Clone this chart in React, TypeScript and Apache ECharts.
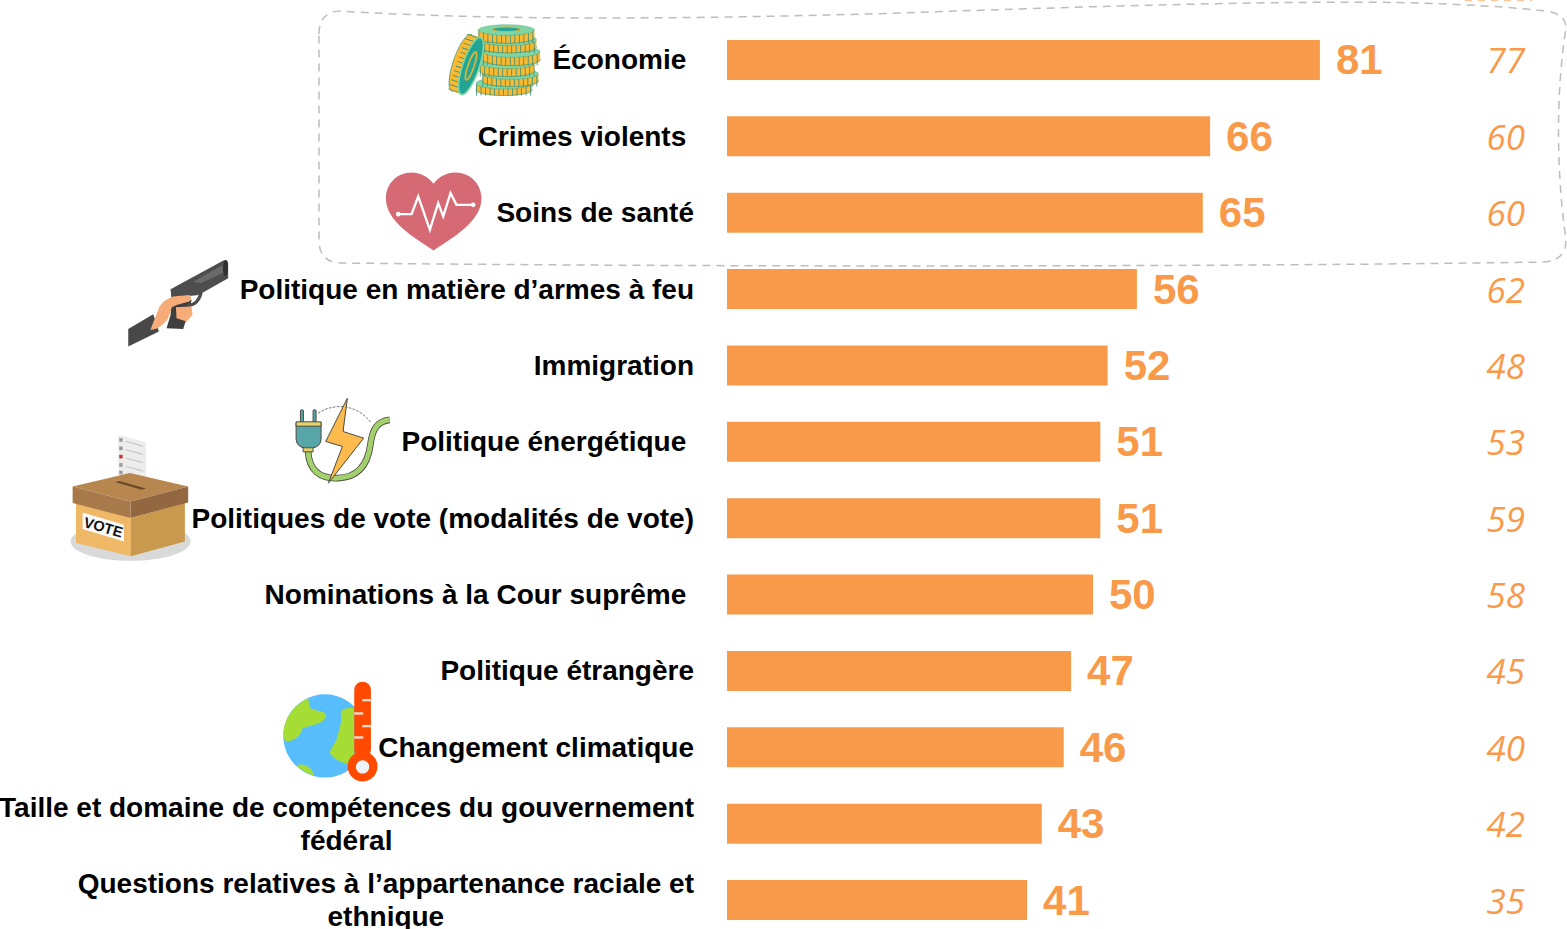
import React, { useEffect, useRef } from "react";
import * as echarts from "echarts";

const categories = [
  "Économie",
  "Crimes violents",
  "Soins de santé",
  "Politique en matière d’armes à feu",
  "Immigration",
  "Politique énergétique",
  "Politiques de vote (modalités de vote)",
  "Nominations à la Cour suprême",
  "Politique étrangère",
  "Changement climatique",
  "Taille et domaine de compétences du gouvernement\nfédéral",
  "Questions relatives à l’appartenance raciale et\nethnique",
];
const paddedCategories = ["Économie", "Crimes violents", "Politique énergétique", "Nominations à la Cour suprême"];
const currentValues = [81, 66, 65, 56, 52, 51, 51, 50, 47, 46, 43, 41];
const previousValues = [77, 60, 60, 62, 48, 53, 59, 58, 45, 40, 42, 35];

const ORANGE = "#F99A4B";
const FONT = "'Liberation Sans', Arial, sans-serif";

const reg = (name: string, d: string) =>
  echarts.graphic.registerShape(name, echarts.graphic.extendPath(d, {}));

reg("boxOutline", "M319 34 Q319 12 340 11 C 500 21 700 19 900 13 C 1100 6 1300 0 1420 3 C 1480 5 1520 8 1546 11 Q 1566 14 1566 28 C 1556 90 1556 170 1566 240 Q 1566 260 1545 262 C 1300 266 800 268 340 263 Q 319 262 319 240 Z");
reg("heartIcon", "M401 552 C 385 530 360 518 335 518 C 292 518 258 552 258 596 C 258 665 345 715 401 752 C 457 715 545 665 545 596 C 545 552 510 518 467 518 C 440 518 417 530 401 552 Z");
reg("gunSlide", "M332 118 L488 33 Q503 25 505 40 L505 85 L432 126 L412 136 L385 138 L335 150 Z");
reg("gunGuard", "M380 165 Q412 170 424 128");
reg("gunHand", "M272 238 L298 172 Q310 150 340 140 L388 135 Q400 145 388 155 L350 165 L336 172 L325 205 Q300 240 272 240 Z");
reg("cable", "M745 605 C 748 660 780 688 835 685 C 900 682 925 640 932 585 C 938 540 950 515 990 510");
reg("dashArc", "M775 490 C 820 460 890 460 935 520");
reg("landA", "M115 85 C 70 105 40 150 40 195 L45 215 C 70 215 92 200 98 175 C 120 165 165 165 168 135 C 165 118 125 125 118 110 Z");
reg("landB", "M253 115 C 235 112 215 115 212 130 C 218 150 210 170 205 190 C 200 220 180 235 180 250 C 190 268 215 280 253 285 Z");
reg("landC", "M80 288 C 95 278 125 285 132 318 C 110 310 95 300 80 288 Z");

function coin(cx: number, topY: number, rx: number, ry: number, h: number) {
  return [
    { type: "ellipse", shape: { cx, cy: topY + h, rx, ry }, style: { fill: "#F9B931", stroke: "#2F8F7A", lineWidth: 2 } },
    { type: "rect", shape: { x: cx - rx, y: topY, width: rx * 2, height: h }, style: { fill: "#F9B931" } },
    {
      type: "line",
      shape: { x1: cx - rx, y1: topY + h / 2 + ry / 2, x2: cx + rx, y2: topY + h / 2 + ry / 2 },
      style: { stroke: "#3D8F78", lineWidth: h + ry, lineDash: [2.5, 11] },
    },
    { type: "ellipse", shape: { cx, cy: topY, rx, ry }, style: { fill: "#7FD6A4", stroke: "#2F8F7A", lineWidth: 1 } },
  ];
}

const third = { scaleX: 1 / 3, scaleY: 1 / 3 };

const coinsIcon = {
  type: "group",
  x: 300,
  y: 0,
  ...third,
  children: [
    ...coin(613, 250, 84, 17, 20),
    ...coin(632, 222, 84, 16, 22),
    ...coin(622, 190, 82, 16, 24),
    ...coin(635, 155, 86, 17, 25),
    ...coin(625, 120, 85, 17, 22),
    ...coin(620, 90, 84, 16, 24),
    { type: "ellipse", shape: { cx: 620, cy: 88, rx: 42, ry: 7 }, style: { fill: "#26A69A", stroke: "#E5B53A", lineWidth: 3 } },
    {
      type: "group",
      x: 513,
      y: 198,
      rotation: -0.33,
      children: [
        { type: "ellipse", shape: { cx: -30, cy: 0, rx: 25, ry: 90 }, style: { fill: "#F9B931", stroke: "#3D8F78", lineWidth: 2 } },
        { type: "rect", shape: { x: -30, y: -90, width: 30, height: 180 }, style: { fill: "#F9B931" } },
        { type: "line", shape: { x1: -18, y1: -88, x2: -18, y2: 88 }, style: { stroke: "#3D8F78", lineWidth: 50, lineDash: [2.5, 12] } },
        { type: "ellipse", shape: { cx: 0, cy: 0, rx: 25, ry: 90 }, style: { fill: "#23A595", stroke: "#7FD6A4", lineWidth: 5 } },
        { type: "ellipse", shape: { cx: 0, cy: 0, rx: 9, ry: 44 }, style: { fill: "#23A595", stroke: "#D9B53A", lineWidth: 5 } },
      ],
    },
  ],
};

const heartIcon = {
  type: "group",
  x: 300,
  y: 0,
  ...third,
  children: [
    { type: "heartIcon", style: { fill: "#D56A74" } },
    {
      type: "polyline",
      shape: { points: [[295, 643], [335, 643], [355, 590], [390, 690], [415, 610], [430, 650], [452, 580], [470, 615], [520, 615]] },
      style: { fill: "none", stroke: "#fff", lineWidth: 7 },
    },
    { type: "circle", shape: { cx: 295, cy: 643, r: 7 }, style: { fill: "#fff" } },
    { type: "circle", shape: { cx: 520, cy: 615, r: 7 }, style: { fill: "#fff" } },
  ],
};

const gunIcon = {
  type: "group",
  x: 60,
  y: 250,
  ...third,
  children: [
    { type: "polygon", shape: { points: [[205, 237], [280, 193], [297, 245], [205, 290]] }, style: { fill: "#484848" } },
    { type: "polygon", shape: { points: [[335, 150], [395, 150], [390, 175], [370, 237], [320, 235], [332, 195]] }, style: { fill: "#3F3F3F" } },
    { type: "gunGuard", style: { fill: "none", stroke: "#4D4D4D", lineWidth: 10 } },
    { type: "gunSlide", style: { fill: "#4D4D4D" } },
    { type: "polygon", shape: { points: [[400, 95], [488, 45], [490, 68], [440, 92], [420, 100]] }, style: { fill: "#6A6A6A" } },
    { type: "ellipse", shape: { cx: 497, cy: 55, rx: 7, ry: 24 }, style: { fill: "#2F2F2F" } },
    { type: "gunHand", style: { fill: "#F6AB78" } },
    { type: "polygon", shape: { points: [[348, 172], [395, 170], [398, 195], [380, 215], [350, 205]] }, style: { fill: "#F6AB78" } },
  ],
};

const DARK = "#4A4A40";
const plugIcon = {
  type: "group",
  x: 60,
  y: 250,
  ...third,
  children: [
    { type: "dashArc", style: { fill: "none", stroke: "#777", lineWidth: 3, lineDash: [8, 4] } },
    { type: "cable", style: { fill: "none", stroke: DARK, lineWidth: 20 } },
    { type: "cable", style: { fill: "none", stroke: "#A3D16E", lineWidth: 15 } },
    { type: "rect", shape: { x: 722, y: 480, width: 9, height: 36, r: 3 }, style: { fill: "#57A6A8", stroke: DARK, lineWidth: 3 } },
    { type: "rect", shape: { x: 760, y: 480, width: 9, height: 36, r: 3 }, style: { fill: "#57A6A8", stroke: DARK, lineWidth: 3 } },
    { type: "rect", shape: { x: 730, y: 590, width: 30, height: 16 }, style: { fill: "#E6D46A", stroke: DARK, lineWidth: 3 } },
    { type: "rect", shape: { x: 709, y: 518, width: 75, height: 76, r: [0, 0, 26, 26] }, style: { fill: "#57A6A8", stroke: DARK, lineWidth: 3 } },
    { type: "rect", shape: { x: 709, y: 516, width: 75, height: 13 }, style: { fill: "#E6D46A", stroke: DARK, lineWidth: 3 } },
    { type: "polygon", shape: { points: [[863, 445], [798, 575], [848, 590], [806, 700], [912, 565], [850, 545]] }, style: { fill: "#FDBB4E", stroke: DARK, lineWidth: 3 } },
  ],
};

const paperLines = [585, 610, 635, 660, 683];
const ballotIcon = {
  type: "group",
  x: 60,
  y: 250,
  ...third,
  children: [
    { type: "ellipse", shape: { cx: 212, cy: 875, rx: 180, ry: 58 }, style: { fill: "#D9D9D9" } },
    { type: "polygon", shape: { points: [[175, 555], [258, 577], [258, 700], [175, 675]] }, style: { fill: "#ECECEC" } },
    ...paperLines.map((y) => ({ type: "line", shape: { x1: 198, y1: y - 10, x2: 250, y2: y + 4 }, style: { stroke: "#AAA", lineWidth: 2 } })),
    ...paperLines.map((y, i) => ({ type: "rect", shape: { x: 178, y: y - 20, width: 10, height: 11 }, style: { fill: i === 2 ? "#D0312D" : "#999" } })),
    { type: "polygon", shape: { points: [[38, 710], [210, 670], [385, 710], [212, 755]] }, style: { fill: "#B8874F" } },
    { type: "polygon", shape: { points: [[165, 697], [178, 694], [258, 716], [245, 720]] }, style: { fill: "#6B4A2A" } },
    { type: "polygon", shape: { points: [[48, 760], [213, 805], [213, 920], [48, 880]] }, style: { fill: "#EFB866" } },
    { type: "polygon", shape: { points: [[213, 805], [375, 760], [375, 875], [213, 920]] }, style: { fill: "#C99A4E" } },
    { type: "polygon", shape: { points: [[38, 710], [212, 755], [212, 805], [38, 760]] }, style: { fill: "#A8794A" } },
    { type: "polygon", shape: { points: [[212, 755], [385, 710], [385, 758], [212, 805]] }, style: { fill: "#93673F" } },
    { type: "polygon", shape: { points: [[68, 788], [192, 825], [192, 875], [68, 838]] }, style: { fill: "#FAFAFA" } },
    { type: "text", x: 130, y: 832, rotation: -0.28, style: { text: "VOTE", font: `bold 44px ${FONT}`, fill: "#111", align: "center", verticalAlign: "middle" } },
  ],
};

const globeIcon = {
  type: "group",
  x: 270,
  y: 670,
  ...third,
  children: [
    { type: "circle", shape: { cx: 165, cy: 198, r: 125 }, style: { fill: "#57BDFB" } },
    { type: "landA", style: { fill: "#A6DD35" } },
    { type: "landB", style: { fill: "#A6DD35" } },
    { type: "landC", style: { fill: "#A6DD35" } },
    { type: "rect", shape: { x: 253, y: 35, width: 50, height: 230, r: 25 }, style: { fill: "#FF4A00" } },
    { type: "circle", shape: { cx: 278, cy: 290, r: 45 }, style: { fill: "#FF4A00" } },
    { type: "circle", shape: { cx: 278, cy: 291, r: 20 }, style: { fill: "#EEF3F8" } },
    { type: "rect", shape: { x: 277, y: 87, width: 26, height: 7 }, style: { fill: "#FFE0D0" } },
    { type: "rect", shape: { x: 253, y: 127, width: 27, height: 7 }, style: { fill: "#FFE0D0" } },
    { type: "rect", shape: { x: 277, y: 165, width: 26, height: 7 }, style: { fill: "#FFE0D0" } },
    { type: "rect", shape: { x: 253, y: 199, width: 27, height: 7 }, style: { fill: "#FFE0D0" } },
  ],
};

export default function App() {
  const ref = useRef<HTMLDivElement>(null);
  useEffect(() => {
    document.body.style.margin = "0";
    const chart = echarts.init(ref.current!, null, { renderer: "svg" });
    chart.setOption({
      animation: false,
      backgroundColor: "#fff",
      grid: { left: 727, top: 21.8, width: 732, height: 916.4, outerBoundsMode: "none" },
      xAxis: { type: "value", min: 0, max: 100, show: false },
      yAxis: {
        type: "category",
        inverse: true,
        data: categories,
        axisLine: { show: false },
        axisTick: { show: false },
        axisLabel: {
          margin: 33,
          interval: 0,
          align: "right",
          formatter: (name: string) => {
            const pad = paddedCategories.includes(name) ? "\u00a0" : "";
            return name.split("\n").map((l) => `{c|${l}${pad}}`).join("\n");
          },
          rich: { c: { fontFamily: FONT, fontSize: 28, fontWeight: "bold", color: "#000", lineHeight: 33, align: "center" } },
        },
      },
      series: [
        {
          type: "bar",
          data: currentValues,
          barWidth: 40,
          itemStyle: { color: ORANGE },
          label: {
            show: true,
            position: "right",
            distance: 16,
            color: ORANGE,
            fontFamily: FONT,
            fontWeight: "bold",
            fontSize: 42,
          },
        },
        {
          type: "custom",
          data: previousValues.map((v, i) => [v, i]),
          encode: { x: 0, y: 1 },
          silent: true,
          renderItem: (_p: any, api: any) => ({
            type: "text",
            x: 1525,
            y: api.coord([0, api.value(1)])[1],
            style: {
              text: String(api.value(0)),
              font: `italic 35px 'Open Sans', sans-serif`,
              fill: ORANGE,
              align: "right",
              verticalAlign: "middle",
            },
          }),
        },
      ],
      graphic: {
        elements: [
          { type: "line", shape: { x1: 1465, y1: 0.5, x2: 1532, y2: 0.5 }, style: { stroke: "#FBC99B", lineWidth: 1.5, lineDash: [7, 6] } },
          { type: "boxOutline", style: { fill: "none", stroke: "#BDBDBD", lineWidth: 1.5, lineDash: [8, 6] } },
          coinsIcon,
          heartIcon,
          gunIcon,
          plugIcon,
          ballotIcon,
          globeIcon,
        ],
      },
    });
    return () => chart.dispose();
  }, []);
  return <div ref={ref} style={{ width: 1567, height: 929 }} />;
}
